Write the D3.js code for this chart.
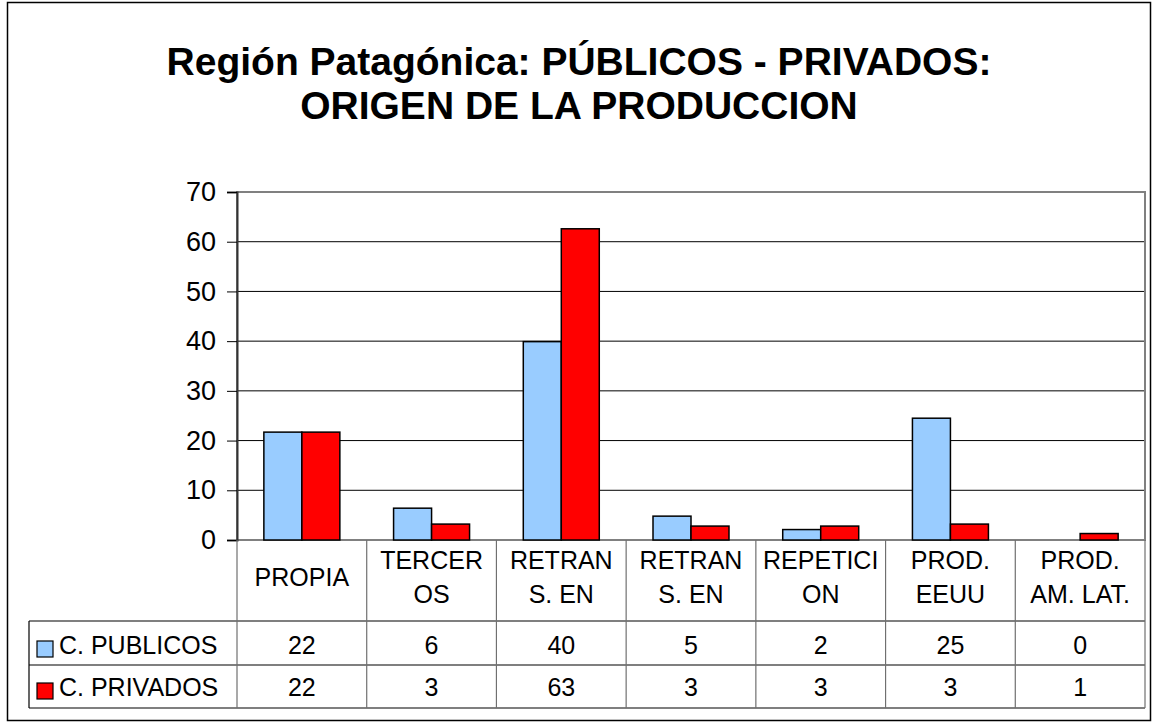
<!DOCTYPE html>
<html>
<head>
<meta charset="utf-8">
<script src="https://cdn.jsdelivr.net/npm/d3@7"></script>
<style>
  body { margin: 0; background: #fff; }
  text { font-family: "Liberation Sans", Arial, sans-serif; }
</style>
</head>
<body>
<div id="chart"></div>
<script>
const w = 1158;
const h = 728;

const titleLines = ['Región Patagónica: PÚBLICOS - PRIVADOS:', 'ORIGEN DE LA PRODUCCION'];
const categories = [['PROPIA'], ['TERCER', 'OS'], ['RETRAN', 'S. EN'], ['RETRAN', 'S. EN'], ['REPETICI', 'ON'], ['PROD.', 'EEUU'], ['PROD.', 'AM. LAT.']];
const seriesNames = ['C. PUBLICOS', 'C. PRIVADOS'];
const seriesColors = ['#99ccff', '#ff0000'];
const publicos = [21.7, 6.4, 39.9, 4.8, 2.1, 24.5, 0];
const privados = [21.7, 3.2, 62.6, 2.8, 2.8, 3.2, 1.3];
const yTicks = [0, 10, 20, 30, 40, 50, 60, 70];

const values = [publicos, privados];

const plotLeft = 237, plotRight = 1145, plotTop = 192, plotBottom = 540;
const headerBottom = 621, rowMid = 665, tableBottom = 708, tableLeft = 29;

const svg = d3.select('#chart')
              .append('svg')
              .attr('width', w)
              .attr('height', h)
              .style('background-color', 'white');

// outer frame
svg.append('rect')
   .attr('x', 7.5).attr('y', 2.5)
   .attr('width', 1143).attr('height', 718)
   .attr('fill', 'none')
   .attr('stroke', '#000')
   .attr('stroke-width', 1.5);

svg.selectAll('.title')
   .data(titleLines)
   .enter()
   .append('text')
   .attr('class', 'title')
   .attr('x', w / 2)
   .attr('y', (d, i) => 75 + i * 44)
   .attr('text-anchor', 'middle')
   .attr('font-size', '39px')
   .attr('font-weight', 'bold')
   .text(d => d);

const x0 = d3.scaleBand().domain(d3.range(categories.length)).range([plotLeft, plotRight]);
const x1 = d3.scaleBand().domain(d3.range(seriesNames.length)).range([0, x0.bandwidth()]).paddingOuter(0.707);
const yScale = d3.scaleLinear().domain([0, 70]).range([plotBottom, plotTop]);

// gridlines
svg.append('g')
   .selectAll('line')
   .data(yTicks.slice(1, -1))
   .enter()
   .append('line')
   .attr('x1', plotLeft).attr('x2', plotRight)
   .attr('y1', d => yScale(d)).attr('y2', d => yScale(d))
   .attr('stroke', '#000')
   .attr('stroke-width', 1);

// plot border
svg.append('rect')
   .attr('x', plotLeft).attr('y', plotTop)
   .attr('width', plotRight - plotLeft).attr('height', plotBottom - plotTop)
   .attr('fill', 'none')
   .attr('stroke', '#808080')
   .attr('stroke-width', 2);

// bars
const groups = svg.append('g')
   .selectAll('g')
   .data(values)
   .enter()
   .append('g')
   .attr('fill', (d, i) => seriesColors[i]);

groups.each(function (vals, s) {
   d3.select(this).selectAll('rect')
     .data(vals)
     .enter()
     .append('rect')
     .attr('x', (d, i) => x0(i) + x1(s))
     .attr('width', x1.bandwidth())
     .attr('y', d => yScale(d))
     .attr('height', d => plotBottom - yScale(d))
     .attr('stroke', '#000')
     .attr('stroke-width', d => d > 0 ? 1.5 : 0);
});

const yAxis = d3.axisLeft(yScale).tickValues(yTicks).tickSize(10).tickPadding(11);
svg.append('g')
   .attr('transform', `translate(${plotLeft}, 0)`)
   .call(yAxis)
   .call(g => g.selectAll('text').attr('font-size', '27px').attr('fill', '#000').attr('font-family', '"Liberation Sans", Arial, sans-serif'))
   .call(g => g.selectAll('line').attr('stroke', '#000'))
   .call(g => g.select('.domain').attr('stroke', '#333').attr('stroke-width', 2));

// data table
const table = svg.append('g');

[headerBottom, rowMid, tableBottom].forEach(yy => {
   table.append('line')
        .attr('x1', tableLeft).attr('x2', plotRight)
        .attr('y1', yy).attr('y2', yy)
        .attr('stroke', '#000').attr('stroke-width', 1.2);
});
table.append('line')
     .attr('x1', tableLeft).attr('x2', tableLeft)
     .attr('y1', headerBottom).attr('y2', tableBottom)
     .attr('stroke', '#000').attr('stroke-width', 1.2);

table.selectAll('.sep')
     .data(d3.range(categories.length + 1))
     .enter()
     .append('line')
     .attr('class', 'sep')
     .attr('x1', i => i < categories.length ? x0(i) : plotRight)
     .attr('x2', i => i < categories.length ? x0(i) : plotRight)
     .attr('y1', plotBottom).attr('y2', tableBottom)
     .attr('stroke', '#707070').attr('stroke-width', 1.2);

table.selectAll('.cat')
     .data(categories)
     .enter()
     .append('text')
     .attr('class', 'cat')
     .attr('text-anchor', 'middle')
     .attr('font-size', '25px')
     .each(function (lines, i) {
        d3.select(this).selectAll('tspan')
          .data(lines)
          .enter()
          .append('tspan')
          .attr('x', x0(i) + x0.bandwidth() / 2)
          .attr('y', (d, j) => lines.length === 1 ? 586 : 569 + j * 34)
          .text(d => d);
     });

const rowBase = [654, 696];
const fmt = d3.format('.0f');

seriesNames.forEach((name, s) => {
   table.append('rect')
        .attr('x', 37).attr('y', rowBase[s] - 13)
        .attr('width', 16).attr('height', 16)
        .attr('fill', seriesColors[s])
        .attr('stroke', '#000').attr('stroke-width', 1.2);
   table.append('text')
        .attr('x', 59).attr('y', rowBase[s])
        .attr('font-size', '25px')
        .text(name);
   table.selectAll('.val' + s)
        .data(values[s])
        .enter()
        .append('text')
        .attr('class', 'val' + s)
        .attr('x', (d, i) => x0(i) + x0.bandwidth() / 2)
        .attr('y', rowBase[s])
        .attr('text-anchor', 'middle')
        .attr('font-size', '25px')
        .text(d => fmt(d));
});
</script>
</body>
</html>
